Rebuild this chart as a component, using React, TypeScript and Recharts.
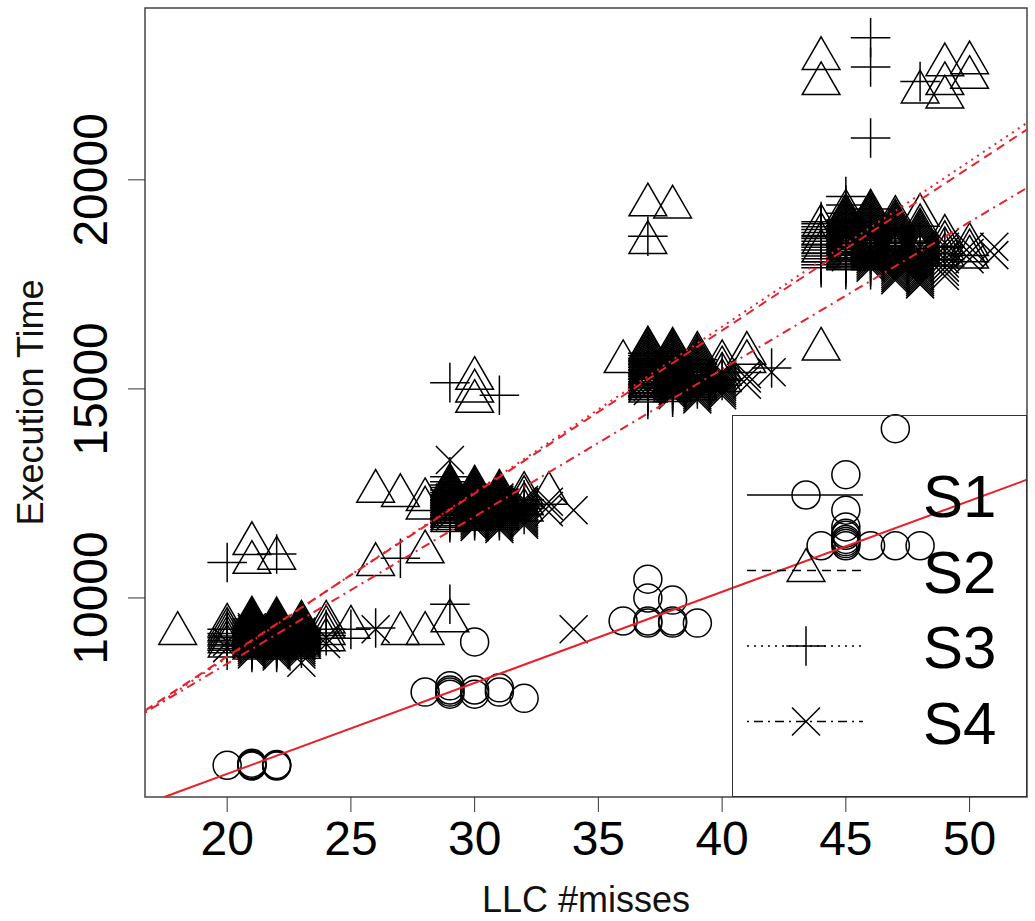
import React from "react";
import {
  ScatterChart,
  Scatter,
  XAxis,
  YAxis,
  ReferenceLine,
  ReferenceArea,
  Legend,
} from "recharts";

const X_DOMAIN: [number, number] = [16.68, 52.32];
const Y_DOMAIN: [number, number] = [5240, 24110];
const xTicks = [20, 25, 30, 35, 40, 45, 50];
const yTicks = [10000, 15000, 20000];

// each entry: [LLC misses, execution times observed at that x]
const s1Groups: [number, number[]][] = [
  [20, [6000]],
  [21, [5980, 6000, 6020, 6050]],
  [22, [5980, 6000, 6020]],
  [28, [7750]],
  [29, [7700, 7750, 7800, 7900]],
  [30, [7700, 7800, 8950]],
  [31, [7750, 7850]],
  [32, [7600]],
  [36, [9450]],
  [37, [9400, 9450, 10000, 10450]],
  [38, [9400, 9450, 9950]],
  [39, [9400]],
  [44, [11250]],
  [45, [11250, 11300, 11350, 11400, 11500, 11550, 11700, 12100, 12950]],
  [46, [11250]],
  [47, [11250, 14050]],
  [48, [11250]],
];

const s2Groups: [number, number[]][] = [
  [18, [9150]],
  [20, [8850, 8950, 9050, 9150, 9250, 9350]],
  [21, [8800, 8840, 8880, 8920, 8960, 9000, 9040, 9080, 9120, 9160, 9200, 9240, 9280, 9320, 9360, 9400, 9440, 9480, 9520, 10850, 11300]],
  [22, [8800, 8850, 8890, 8930, 8970, 9010, 9050, 9090, 9130, 9170, 9210, 9250, 9290, 9330, 9370, 9410, 9450, 9500, 10950]],
  [23, [8820, 8870, 8920, 8970, 9020, 9070, 9120, 9170, 9220, 9270, 9320, 9370, 9420]],
  [24, [9000, 9150, 9300, 9420]],
  [25, [9300]],
  [26, [10800, 12550]],
  [27, [9150, 12450]],
  [28, [9150, 11100, 12150, 12350]],
  [29, [9450, 11850, 11900, 11950, 11990, 12040, 12080, 12130, 12170, 12220, 12260, 12310, 12350, 12400, 12440, 12490, 12530, 12580, 12620, 12670, 12700]],
  [30, [11880, 11930, 11970, 12020, 12060, 12110, 12150, 12200, 12240, 12290, 12330, 12380, 12420, 12470, 12510, 12560, 12600, 12650, 14700, 14950, 15250]],
  [31, [11900, 11950, 12000, 12050, 12100, 12150, 12200, 12250, 12300, 12350, 12400, 12450, 12500, 12550]],
  [32, [12100, 12250, 12400, 12500]],
  [33, [12500]],
  [36, [15650]],
  [37, [14950, 15000, 15060, 15110, 15170, 15220, 15280, 15330, 15390, 15440, 15500, 15550, 15610, 15660, 15720, 15770, 15830, 15880, 15940, 15980, 18500, 19400]],
  [38, [14960, 15020, 15070, 15130, 15180, 15240, 15290, 15350, 15400, 15460, 15510, 15570, 15620, 15680, 15730, 15790, 15840, 15900, 15950, 19350]],
  [39, [15000, 15060, 15120, 15180, 15240, 15300, 15360, 15420, 15480, 15540, 15600, 15660, 15720, 15780, 15850]],
  [40, [15200, 15350, 15500, 15650]],
  [41, [15650, 15850]],
  [44, [15950, 18300, 18500, 18700, 18900, 22300, 22900]],
  [45, [18150, 18200, 18250, 18300, 18350, 18400, 18450, 18500, 18550, 18600, 18650, 18700, 18750, 18800, 18850, 18900, 18950, 19000, 19050, 19100, 19150, 19250]],
  [46, [18150, 18210, 18260, 18320, 18370, 18430, 18480, 18540, 18590, 18650, 18700, 18760, 18810, 18870, 18920, 18980, 19030, 19090, 19140, 19200, 19250]],
  [47, [18200, 18250, 18300, 18360, 18410, 18470, 18520, 18580, 18630, 18690, 18740, 18800, 18850, 18910, 18960, 19020, 19100]],
  [48, [18200, 18260, 18320, 18380, 18440, 18500, 18560, 18620, 18680, 18740, 18800, 18900, 19150, 22100]],
  [49, [18200, 18350, 18500, 18650, 21980, 22300, 22750]],
  [50, [18150, 18300, 18450, 22450, 22800]],
];

const s3Groups: [number, number[]][] = [
  [20, [8750, 8850, 8950, 9050, 9150, 9250, 10850]],
  [21, [8700, 8750, 8800, 8850, 8900, 8950, 9000, 9050, 9100, 9150, 9200, 9250, 9300, 9350, 9400, 9450, 9500]],
  [22, [8700, 8750, 8800, 8850, 8900, 8950, 9000, 9050, 9100, 9150, 9200, 9250, 9300, 9350, 9400, 11050]],
  [23, [8800, 8860, 8920, 8980, 9040, 9100, 9160, 9220, 9280]],
  [24, [9100, 9250]],
  [25, [9250]],
  [26, [9280]],
  [27, [10950]],
  [29, [9850, 11800, 11860, 11920, 11980, 12040, 12100, 12160, 12220, 12280, 12340, 12400, 12460, 12520, 12580, 12640, 12700, 12780, 12900, 15150]],
  [30, [11850, 11910, 11970, 12030, 12090, 12150, 12210, 12270, 12330, 12390, 12450, 12510, 12570, 12630, 12700]],
  [31, [11850, 11920, 11990, 12060, 12130, 12200, 12270, 12340, 12410, 12480, 12550, 12600, 14850]],
  [32, [12000, 12200, 12350]],
  [37, [14750, 14820, 14890, 14960, 15030, 15100, 15170, 15240, 15310, 15380, 15450, 15520, 15590, 15660, 15730, 15800, 15850, 18650]],
  [38, [14800, 14870, 14940, 15010, 15080, 15150, 15220, 15290, 15360, 15430, 15500, 15570, 15640, 15710, 15780, 15850, 15900]],
  [39, [15000, 15100, 15200, 15300, 15400, 15500, 15600, 15700]],
  [40, [15200, 15400]],
  [42, [15500]],
  [44, [17900, 17970, 18040, 18110, 18180, 18250, 18320, 18390, 18460, 18530, 18600, 18670, 18740, 18810, 18880, 18950, 19000]],
  [45, [17850, 17920, 17990, 18060, 18130, 18200, 18270, 18340, 18410, 18480, 18550, 18620, 18690, 18760, 18830, 18900, 18970, 19040, 19200, 19400, 19600]],
  [46, [17850, 17920, 17990, 18060, 18130, 18200, 18270, 18340, 18410, 18480, 18550, 18620, 18690, 18760, 18830, 18900, 19000, 19150, 19300, 21000, 22700, 23400]],
  [47, [18100, 18200, 18300, 18400, 18500, 18600, 18700, 18800]],
  [48, [18300, 18500, 22350]],
  [49, [18400]],
];

const s4Groups: [number, number[]][] = [
  [20, [8800, 8950]],
  [21, [8650, 8700, 8750, 8800, 8850, 8900, 8950, 9000, 9050, 9100, 9150, 9200, 9250, 9300]],
  [22, [8600, 8650, 8700, 8750, 8800, 8850, 8900, 8950, 9000, 9050, 9100, 9150, 9200, 9250]],
  [23, [8450, 8650, 8700, 8750, 8800, 8850, 8900, 8950, 9000, 9050, 9100, 9150, 9200]],
  [24, [8900, 9050]],
  [26, [9250]],
  [29, [11950, 12050, 12150, 12250, 12350, 12400, 13300]],
  [30, [11700, 11750, 11800, 11850, 11900, 11950, 12000, 12050, 12100, 12150, 12200, 12250, 12300, 12350, 12400]],
  [31, [11650, 11700, 11750, 11800, 11850, 11900, 11950, 12000, 12050, 12100, 12150, 12200, 12250, 12300, 12350, 12400]],
  [32, [11750, 11800, 11850, 11900, 11950, 12000, 12050, 12100, 12150, 12200, 12250, 12300, 12350]],
  [33, [12050, 12200, 12300]],
  [34, [9250, 12100]],
  [37, [14950, 15050, 15150, 15250, 15350]],
  [38, [14850, 14900, 14950, 15000, 15050, 15100, 15150, 15200, 15250, 15300, 15350, 15400]],
  [39, [14750, 14800, 14850, 14900, 14950, 15000, 15050, 15100, 15150, 15200, 15250, 15300]],
  [40, [14850, 14900, 14950, 15000, 15050, 15100, 15150, 15200, 15250, 15300, 15350, 15400]],
  [41, [15100, 15250, 15350]],
  [42, [15400]],
  [45, [18150, 18300, 18450]],
  [46, [17900, 17950, 18000, 18050, 18100, 18150, 18200, 18250, 18300, 18350]],
  [47, [17600, 17650, 17700, 17750, 17800, 17850, 17900, 17950, 18000, 18050, 18100, 18150, 18200, 18250, 18300]],
  [48, [17500, 17550, 17600, 17650, 17700, 17750, 17800, 17850, 17900, 17950, 18000, 18050, 18100, 18150, 18200, 18250, 18300, 18400]],
  [49, [17700, 17800, 17900, 18000, 18100, 18200, 18300, 18400, 18500]],
  [50, [18100, 18250, 18400]],
  [51, [18200, 18400]],
];

const seriesNames = ["S1", "S2", "S3", "S4"];
// least-squares fits
const fitIntercepts = [1439, 800, 660, 1387];
const fitSlopes = [217.7, 390, 395.7, 352.1];
const fitDashes = [undefined, "9 6", "2 5", "2 5 9 5"];

const FONT = '"Liberation Sans", Arial, Helvetica, sans-serif';
const INK = "#000";
const RED = "#e8202a";
const U = 14; // R symbol radius in px

const flatten = (groups: [number, number[]][]) =>
  groups.flatMap(([x, ys]) => ys.map((y) => ({ x, y })));

function clipFit(a: number, b: number) {
  const yAt = (x: number) => a + b * x;
  let x0 = X_DOMAIN[0];
  let x1 = X_DOMAIN[1];
  if (yAt(x0) < Y_DOMAIN[0]) x0 = (Y_DOMAIN[0] - a) / b;
  if (yAt(x1) > Y_DOMAIN[1]) x1 = (Y_DOMAIN[1] - a) / b;
  return [
    { x: x0, y: yAt(x0) },
    { x: x1, y: yAt(x1) },
  ];
}

function Marker({ kind, cx, cy }: { kind: number; cx: number; cy: number }) {
  const common = { fill: "none", stroke: INK, strokeWidth: 1.5 };
  if (kind === 0) return <circle cx={cx} cy={cy} r={U} {...common} />;
  if (kind === 1) {
    const r = 1.555 * U;
    const h = r * 0.866;
    return (
      <polygon
        points={`${cx},${cy - r} ${cx + h},${cy + r / 2} ${cx - h},${cy + r / 2}`}
        {...common}
      />
    );
  }
  if (kind === 2) {
    const d = 1.414 * U;
    return (
      <path d={`M${cx - d},${cy}H${cx + d}M${cx},${cy - d}V${cy + d}`} {...common} />
    );
  }
  return (
    <path
      d={`M${cx - U},${cy - U}L${cx + U},${cy + U}M${cx - U},${cy + U}L${cx + U},${cy - U}`}
      {...common}
    />
  );
}

function LegendBox() {
  return (
    <svg width={295} height={382} style={{ display: "block" }}>
      <rect x={0.5} y={0.5} width={294} height={381} fill="none" stroke="#333" />
      {seriesNames.map((name, i) => {
        const y = 80 + i * 75.5;
        return (
          <g key={name}>
            <line
              x1={15}
              x2={131}
              y1={y}
              y2={y}
              stroke={INK}
              strokeWidth={1.5}
              strokeDasharray={fitDashes[i]}
            />
            <Marker kind={i} cx={74} cy={y} />
            <text x={191} y={y + 22} fontSize={60} fontFamily={FONT} fill={INK}>
              {name}
            </text>
          </g>
        );
      })}
    </svg>
  );
}

const XTick = (props: any) => (
  <text
    x={props.x}
    y={props.y + 43}
    textAnchor="middle"
    fontSize={48}
    fontFamily={FONT}
    fill={INK}
  >
    {props.payload.value}
  </text>
);

const YTick = (props: any) => {
  const x = props.x - 21;
  return (
    <text
      x={x}
      y={props.y}
      transform={`rotate(-90 ${x} ${props.y})`}
      textAnchor="middle"
      fontSize={48}
      fontFamily={FONT}
      fill={INK}
    >
      {props.payload.value}
    </text>
  );
};

export default function App() {
  const seriesData = [s1Groups, s2Groups, s3Groups, s4Groups].map(flatten);

  return (
    <div style={{ position: "absolute", left: 0, top: 0, background: "#fff" }}>
      <ScatterChart
        width={1035}
        height={921}
        margin={{ top: 8, right: 8, bottom: 0, left: 0 }}
      >
        <XAxis
          type="number"
          dataKey="x"
          domain={X_DOMAIN}
          ticks={xTicks}
          interval={0}
          allowDataOverflow
          height={124}
          tickSize={15}
          tickMargin={0}
          axisLine={false}
          tickLine={{ stroke: "#333", strokeWidth: 1 }}
          tick={<XTick />}
          label={{
            content: (p: any) => (
              <text
                x={p.viewBox.x + p.viewBox.width / 2}
                y={912}
                textAnchor="middle"
                fontSize={36}
                fontFamily={FONT}
                fill="#111"
              >
                LLC #misses
              </text>
            ),
          }}
        />
        <YAxis
          type="number"
          dataKey="y"
          domain={Y_DOMAIN}
          ticks={yTicks}
          interval={0}
          allowDataOverflow
          width={145}
          tickSize={17}
          tickMargin={0}
          axisLine={false}
          tickLine={{ stroke: "#333", strokeWidth: 1 }}
          tick={<YTick />}
          label={{
            content: (p: any) => {
              const cy = p.viewBox.y + p.viewBox.height / 2;
              return (
                <text
                  x={43}
                  y={cy}
                  transform={`rotate(-90 43 ${cy})`}
                  textAnchor="middle"
                  fontSize={36}
                  fontFamily={FONT}
                  fill="#111"
                >
                  Execution Time
                </text>
              );
            },
          }}
        />
        <ReferenceArea
          x1={X_DOMAIN[0]}
          x2={X_DOMAIN[1]}
          y1={Y_DOMAIN[0]}
          y2={Y_DOMAIN[1]}
          fill="none"
          stroke="#444"
          strokeWidth={1.5}
          ifOverflow="visible"
        />
        {seriesData.map((data, i) => (
          <Scatter
            key={seriesNames[i]}
            name={seriesNames[i]}
            data={data}
            isAnimationActive={false}
            shape={(p: any) => <Marker kind={i} cx={p.cx} cy={p.cy} />}
          />
        ))}
        {/* fitted lines sit on top of the point clouds, as abline() does in R */}
        {fitIntercepts.map((a, i) => (
          <ReferenceLine
            key={`fit-${i}`}
            segment={clipFit(a, fitSlopes[i])}
            stroke={RED}
            strokeWidth={2}
            strokeDasharray={fitDashes[i]}
            ifOverflow="visible"
            zIndex={900}
          />
        ))}
        <Legend
          layout="vertical"
          align="center"
          verticalAlign="middle"
          width={295}
          height={382}
          wrapperStyle={{ left: 732, top: 415, width: 295, height: 382, margin: 0 }}
          content={() => <LegendBox />}
        />
      </ScatterChart>
    </div>
  );
}
